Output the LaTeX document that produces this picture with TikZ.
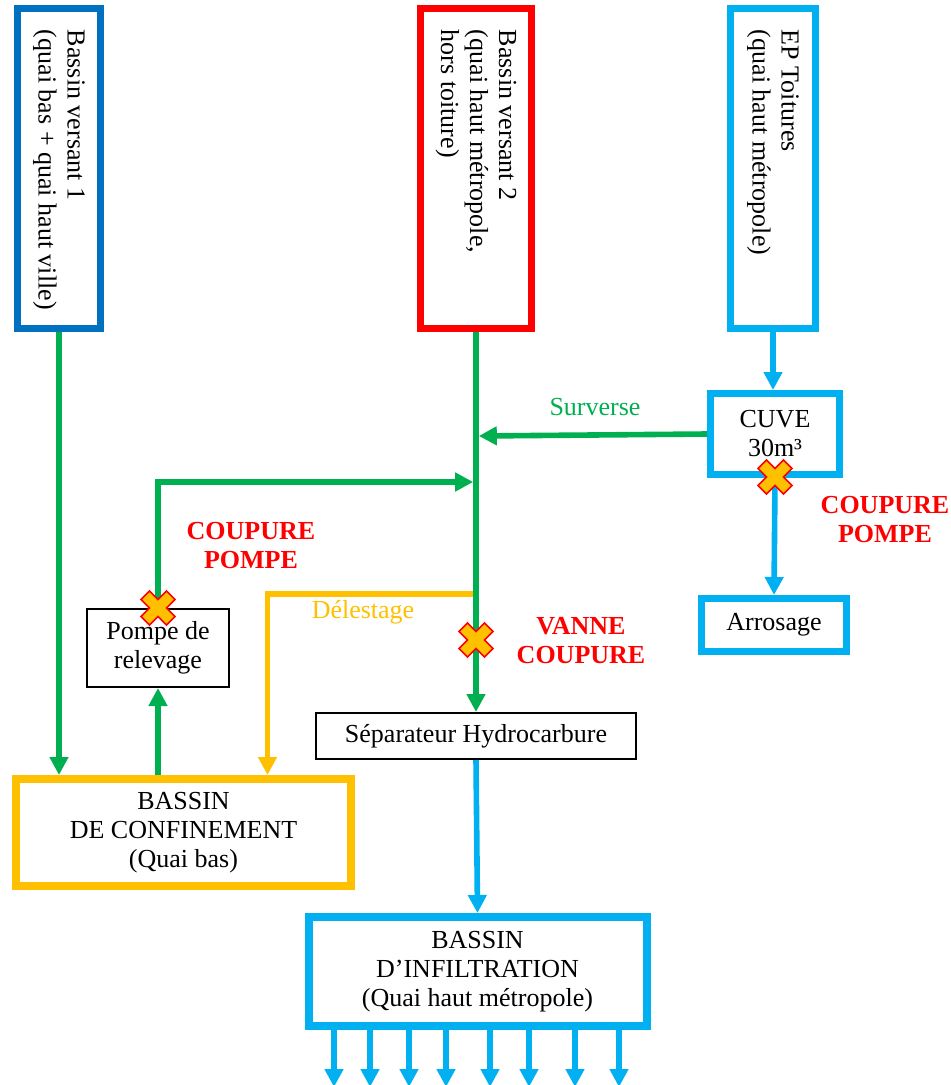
\documentclass[tikz,border=0pt]{standalone}
\usepackage{fontspec}
\setmainfont{Liberation Serif}
\usetikzlibrary{arrows.meta}
\definecolor{bleuf}{HTML}{0070C0}
\definecolor{rouge}{HTML}{FF0000}
\definecolor{cyanb}{HTML}{00B0F0}
\definecolor{vert}{HTML}{00B050}
\definecolor{jaune}{HTML}{FFC000}
% texte vertical, lu de haut en bas
\newcommand{\vtexte}[1]{\rotatebox{-90}{\makebox[138.5pt][l]{\begin{tabular}{@{}l@{}}#1\end{tabular}}}}
\tikzset{
  txt/.style={font=\fontsize{13}{14.5}\selectfont, align=center},
  bassin/.style={txt, draw=#1, line width=3.5pt, inner sep=0pt},
  boite/.style={txt, draw, line width=1pt, inner sep=0pt},
  alerte/.style={txt, text=rouge, font=\fontsize{13}{14.5}\selectfont\bfseries},
  fleche/.style={draw=#1, line width=2.8pt, -{Triangle[length=9pt,width=9pt]}},
  stopmark/.pic={
    \filldraw[fill=jaune, draw=rouge, line width=0.8pt, rotate=45]
      (-3pt,3pt) -- (-3pt,9pt) -- (3pt,9pt) -- (3pt,3pt) -- (9pt,3pt) -- (9pt,-3pt)
      -- (3pt,-3pt) -- (3pt,-9pt) -- (-3pt,-9pt) -- (-3pt,-3pt) -- (-9pt,-3pt) -- (-9pt,3pt) -- cycle;
  }
}
\begin{document}
\begin{tikzpicture}[x=0.5pt, y=-0.5pt]
  \useasboundingbox (0,0) rectangle (950,1085);
  % bassins versants
  \node[bassin=bleuf, minimum width=41.5pt, minimum height=160pt] (bv1) at (59,168.5)
    {\vtexte{Bassin versant 1\\(quai bas + quai haut ville)}};
  \node[bassin=rouge, minimum width=55.5pt, minimum height=160pt] (bv2) at (476,168.5)
    {\vtexte{Bassin versant 2\\(quai haut métropole,\\hors toiture)}};
  \node[bassin=cyanb, minimum width=42.5pt, minimum height=160pt] (bv3) at (773,168.5)
    {\vtexte{EP Toitures\\(quai haut métropole)}};
  % ouvrages
  \node[bassin=cyanb, minimum width=64.5pt, minimum height=40.5pt] (cuve) at (775,434) {CUVE\\30m³};
  \node[bassin=cyanb, minimum width=72.5pt, minimum height=26.5pt] (arros) at (774,625) {Arrosage};
  \node[boite, minimum width=71pt, minimum height=39pt] (pompe) at (158,648) {Pompe de\\relevage};
  \node[boite, minimum width=160pt, minimum height=23pt] (sep) at (476,736) {Séparateur Hydrocarbure};
  \node[bassin=jaune, line width=4pt, minimum width=167.5pt, minimum height=53.5pt] (conf) at (183.5,832.5)
    {BASSIN\\DE CONFINEMENT\\(Quai bas)};
  \node[bassin=cyanb, line width=4pt, minimum width=169pt, minimum height=54.5pt] (infil) at (477.5,971.5)
    {BASSIN\\D’INFILTRATION\\(Quai haut métropole)};
  % libelles
  \node[txt, text=vert] (surv) at (595,407) {Surverse};
  \node[txt, text=jaune] (delest) at (363,612) {Délestage};
  \node[alerte] (cp1) at (251,546) {COUPURE\\POMPE};
  \node[alerte] (cp2) at (885,520) {COUPURE\\POMPE};
  \node[alerte] (vc) at (581,641) {VANNE\\COUPURE};
  % piquages sur la conduite principale
  \coordinate (j1) at (476,436);
  \coordinate (j2) at (476,482);
  \coordinate (j3) at (476,594);
  % liaisons
  \draw[fleche=jaune] (j3) -| ([xshift=42pt]conf.north);
  \draw[fleche=vert] (bv2.south) -- (sep.north);
  \draw[fleche=vert] (cuve.west) -- ([xshift=1.4pt]j1);
  \draw[fleche=vert] (pompe.north) |- ([xshift=-1.4pt]j2);
  \draw[fleche=vert] (bv1.south) -- (bv1.south |- conf.north);
  \draw[fleche=vert] (pompe.south |- conf.north) -- (pompe.south);
  \draw[fleche=cyanb] (bv3.south) -- (bv3.south |- cuve.north);
  \draw[fleche=cyanb] (cuve.south) -- (arros.north);
  \draw[fleche=cyanb] (sep.south) -- (infil.north);
  \foreach \x in {334,370,409,446,490,529,575,619}
    \draw[fleche=cyanb] (infil.south -| \x,0) -- ++(0,57);
  % coupures
  \pic at (158,608) {stopmark};
  \pic at (775,477) {stopmark};
  \pic at (476,640) {stopmark};
\end{tikzpicture}
\end{document}
